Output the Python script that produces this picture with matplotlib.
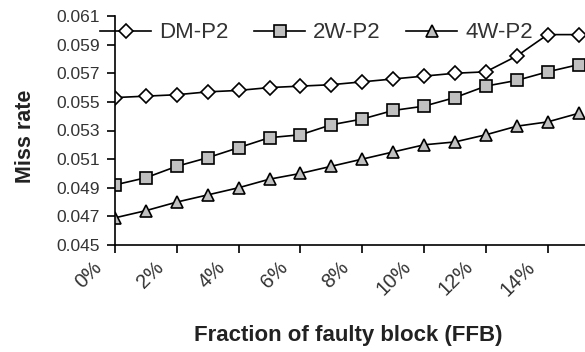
import matplotlib
matplotlib.use("Agg")
import matplotlib.pyplot as plt
import matplotlib.transforms as mtransforms

plt.rcParams['font.family'] = ['Liberation Sans', 'DejaVu Sans']

ffb = list(range(16))
xtick_pos = [0, 2, 4, 6, 8, 10, 12, 14]
xtick_labels = ['0%', '2%', '4%', '6%', '8%', '10%', '12%', '14%']
dm_p2 = [0.0553, 0.0554, 0.0555, 0.0557, 0.0558, 0.0560, 0.0561, 0.0562,
         0.0564, 0.0566, 0.0568, 0.0570, 0.0571, 0.0582, 0.0597, 0.0597]
w2_p2 = [0.0492, 0.0497, 0.0505, 0.0511, 0.0518, 0.0525, 0.0527, 0.0534,
         0.0538, 0.0544, 0.0547, 0.0553, 0.0561, 0.0565, 0.0571, 0.0576]
w4_p2 = [0.0469, 0.0474, 0.0480, 0.0485, 0.0490, 0.0496, 0.0500, 0.0505,
         0.0510, 0.0515, 0.0520, 0.0522, 0.0527, 0.0533, 0.0536, 0.0542]
yticks = [0.045, 0.047, 0.049, 0.051, 0.053, 0.055, 0.057, 0.059, 0.061]

fig = plt.figure(figsize=(5.85, 3.52), dpi=100)
ax = fig.add_axes([115/585, 1 - 245/352, (585 - 115)/585, (245 - 16)/352])

common = dict(color='black', linewidth=1.2, markeredgecolor='black', markeredgewidth=1.2)
ax.plot(ffb, dm_p2, marker='D', markersize=7.5, markerfacecolor='white', label='DM-P2', **common)
ax.plot(ffb, w2_p2, marker='s', markersize=8.5, markerfacecolor='#c0c0c0', label='2W-P2', **common)
ax.plot(ffb, w4_p2, marker='^', markersize=9, markerfacecolor='#c0c0c0', label='4W-P2', **common)

ax.set_xlim(0, 15.21)
ax.set_ylim(0.045, 0.061)
ax.set_yticks(yticks)
ax.set_yticklabels([f'{v:.3f}' for v in yticks], fontsize=12.5, color='#333333')
ax.set_xticks(xtick_pos)
ax.set_xticklabels([])

# rotated x tick labels, anchored at the right end of the baseline
offset = mtransforms.ScaledTranslation(-12/100, -23/100, fig.dpi_scale_trans)
trans = mtransforms.blended_transform_factory(ax.transData, ax.transAxes) + offset
for pos, lab in zip(xtick_pos, xtick_labels):
    ax.text(pos, 0, lab, transform=trans, rotation=45, ha='right', va='baseline',
            rotation_mode='anchor', fontsize=14.5, color='#333333', clip_on=False)

for s in ['top', 'right']:
    ax.spines[s].set_visible(False)
for s in ['left', 'bottom']:
    ax.spines[s].set_linewidth(1.2)
ax.tick_params(direction='out', length=6, width=1.2)
ax.tick_params(axis='y', pad=5)

ax.set_ylabel('Miss rate', fontsize=15.5, fontweight='bold', color='#222222',
              va='center', ha='center')
ax.yaxis.set_label_coords((25.5 - 115) / 470, (245 - 136.5) / 229)
ax.set_xlabel('Fraction of faulty block (FFB)', fontsize=16, fontweight='bold',
              color='#222222', va='center', ha='center')
ax.xaxis.set_label_coords((348 - 115) / 470, -(336 - 245) / 229)

leg = ax.legend(loc='center left', bbox_to_anchor=((100 - 115) / 470, (245 - 33) / 229),
                ncol=3, frameon=False, fontsize=16, handlelength=2.3,
                handletextpad=0.36, columnspacing=1.15, borderaxespad=0.0, borderpad=0.0)
for t in leg.get_texts():
    t.set_color('#333333')

fig.savefig('out.png', dpi=100)
